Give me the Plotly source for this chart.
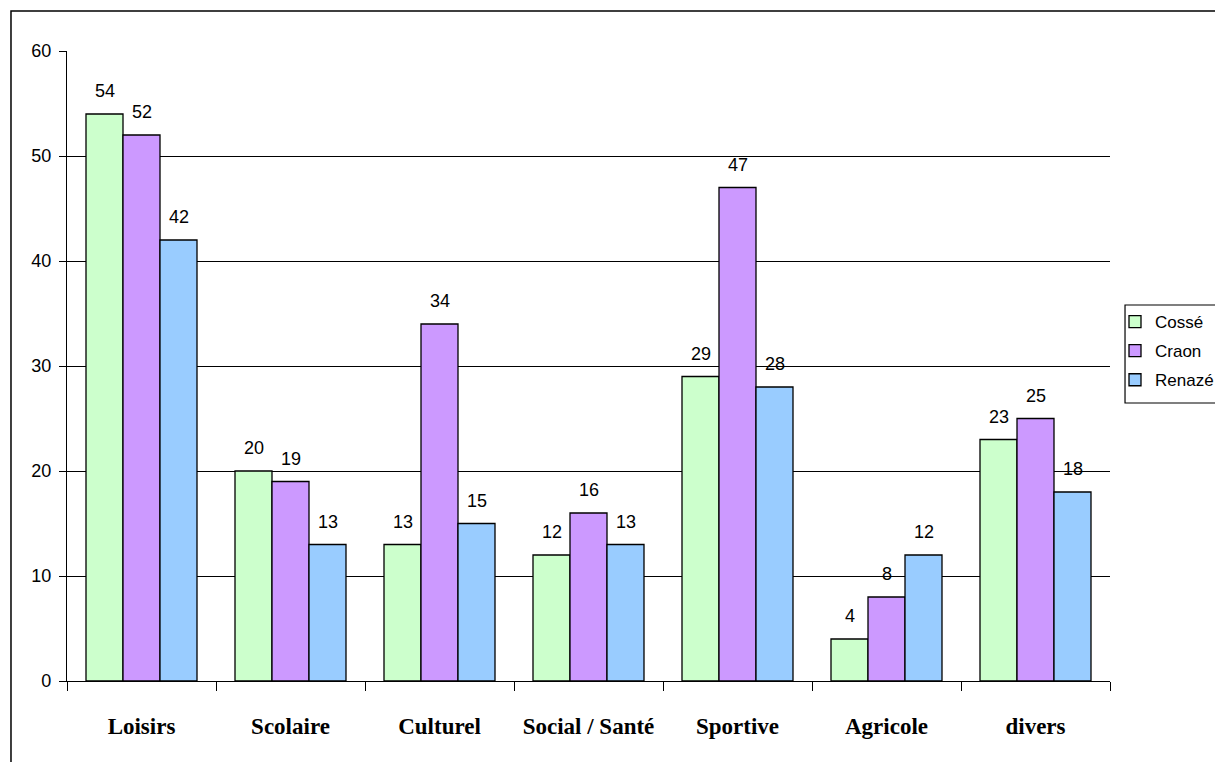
import plotly.graph_objects as go

categories = ["Loisirs", "Scolaire", "Culturel", "Social / Santé", "Sportive", "Agricole", "divers"]
cosse = [54, 20, 13, 12, 29, 4, 23]
craon = [52, 19, 34, 16, 47, 8, 25]
renaze = [42, 13, 15, 13, 28, 12, 18]
series_names = ["Cossé", "Craon", "Renazé"]
series_colors = ["#CCFFCC", "#CC99FF", "#99CCFF"]
y_ticks = [0, 10, 20, 30, 40, 50, 60]

BARGAP = 0.255
series = [cosse, craon, renaze]
ARIAL = "Arial, Liberation Sans"

fig = go.Figure()
for name, vals, color in zip(series_names, series, series_colors):
    fig.add_trace(go.Bar(
        x=categories, y=vals, name=name, legendgroup=name,
        marker=dict(color=color, line=dict(color="black", width=1.3)),
    ))

# value labels above each bar, offset within its group
bar_w = (1 - BARGAP) / len(series)
for k, vals in enumerate(series):
    off = (k - (len(series) - 1) / 2) * bar_w
    for i, v in enumerate(vals):
        fig.add_annotation(
            x=i + off, y=v, text=str(v), showarrow=False,
            yanchor="bottom", yshift=11,
            font=dict(family=ARIAL, size=18, color="black"),
        )

# outer chart frame
fig.add_shape(type="rect", xref="paper", yref="paper",
              x0=-0.0537, x1=1.3, y0=-0.3, y1=1.0635,
              line=dict(color="black", width=1.5), layer="below")
# legend frame (runs past the right edge of the page)
fig.add_shape(type="rect", xref="paper", yref="paper",
              x0=1.0144, x1=1.3, y0=0.4413, y1=0.5968,
              line=dict(color="black", width=1.2), fillcolor="white", layer="below")

fig.update_layout(
    width=1215, height=762,
    margin=dict(l=67, r=105, t=51, b=81, autoexpand=False),
    paper_bgcolor="white", plot_bgcolor="white",
    barmode="group", bargap=BARGAP, bargroupgap=0,
    showlegend=True,
    legend=dict(
        xref="container", yref="container",
        x=1115 / 1215, y=1 - 304 / 762, xanchor="left", yanchor="top",
        borderwidth=0, bgcolor="rgba(0,0,0,0)",
        font=dict(family=ARIAL, size=17, color="black"),
        itemwidth=30, tracegroupgap=4,
    ),
    xaxis=dict(
        type="category", showline=True, linecolor="black", linewidth=1.3,
        ticks="outside", tickson="boundaries", ticklen=9, tickcolor="black",
        ticklabelstandoff=24,
        tickfont=dict(family="Times New Roman, Liberation Serif", size=23, color="black",
                      weight="bold"),
        showgrid=False, zeroline=False,
    ),
    yaxis=dict(
        range=[0, 60], tickvals=y_ticks, showline=True, linecolor="black", linewidth=1.3,
        ticks="outside", ticklen=7, tickcolor="black", ticklabelstandoff=4,
        tickfont=dict(family=ARIAL, size=18, color="black"),
        showgrid=True, gridcolor="black", gridwidth=1.3, zeroline=False,
    ),
)

fig.write_html("out.html")
